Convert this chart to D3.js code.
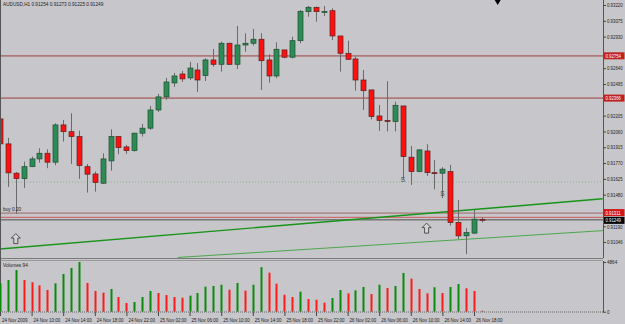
<!DOCTYPE html>
<html><head><meta charset="utf-8">
<script src="https://cdn.jsdelivr.net/npm/d3@7"></script>
<style>html,body{margin:0;padding:0;background:#c7c6ca;} svg{display:block} text{font-family:"Liberation Sans",Arial,sans-serif;}</style>
</head><body><svg id="c" width="625" height="324"></svg>
<script>
// ---------- DATA ----------
const symbolTitle = "AUDUSD,H1";
const open = [0.92175,0.91946,0.91677,0.91627,0.91737,0.91808,0.91860,0.91778,0.92120,0.92058,
0.92013,0.91737,0.91670,0.91585,0.91790,0.92013,0.91918,0.91884,0.92044,0.92090,
0.92257,0.92377,0.92505,0.92587,0.92551,0.92624,0.92572,0.92716,0.92676,0.92869,
0.92676,0.92853,0.92869,0.92906,0.92716,0.92569,0.92808,0.92741,0.92893,0.93159,
0.93199,0.93153,0.93168,0.92936,0.92777,0.92725,0.92532,0.92441,0.92202,0.92161,
0.92150,0.92294,0.91824,0.91692,0.91881,0.91682,0.91677,0.91692,0.91224,0.91102,
0.91127,0.91254];
const high = [0.92211,0.92001,0.91689,0.91783,0.91829,0.91906,0.91897,0.92135,0.92166,0.92227,
0.92068,0.91762,0.91692,0.91860,0.92080,0.92019,0.91936,0.92049,0.92129,0.92294,
0.92404,0.92551,0.92597,0.92615,0.92698,0.92688,0.92731,0.92817,0.92884,0.92874,
0.93028,0.92961,0.93000,0.92961,0.92768,0.92878,0.92808,0.92930,0.93174,0.93211,
0.93205,0.93211,0.93190,0.92936,0.92893,0.92746,0.92624,0.92441,0.92303,0.92521,
0.92333,0.92294,0.91927,0.91897,0.91943,0.91799,0.91732,0.91753,0.91432,0.91173,
0.91340,0.91273];
const low = [0.91918,0.91551,0.91304,0.91542,0.91732,0.91774,0.91723,0.91750,0.91967,0.91762,
0.91625,0.91499,0.91508,0.91579,0.91701,0.91851,0.91854,0.91875,0.92013,0.92074,
0.92239,0.92349,0.92468,0.92514,0.92532,0.92422,0.92523,0.92654,0.92609,0.92670,
0.92633,0.92792,0.92847,0.92441,0.92508,0.92548,0.92731,0.92731,0.92869,0.93113,
0.93067,0.93119,0.92899,0.92609,0.92716,0.92434,0.92257,0.92170,0.92065,0.92060,
0.92060,0.91625,0.91570,0.91686,0.91652,0.91530,0.91448,0.91196,0.91072,0.90934,
0.91120,0.91225];
const close = [0.91946,0.91680,0.91627,0.91737,0.91808,0.91860,0.91778,0.92120,0.92058,0.92013,
0.91747,0.91668,0.91591,0.91808,0.92013,0.91912,0.91884,0.92044,0.92090,0.92257,
0.92377,0.92514,0.92569,0.92542,0.92642,0.92532,0.92716,0.92676,0.92869,0.92676,
0.92853,0.92869,0.92906,0.92709,0.92569,0.92814,0.92741,0.92893,0.93162,0.93199,
0.93159,0.93161,0.92936,0.92777,0.92722,0.92532,0.92434,0.92196,0.92161,0.92154,
0.92300,0.91829,0.91692,0.91891,0.91682,0.91673,0.91714,0.91224,0.91102,0.91132,
0.91255,0.91249];
const volume = [2780,3100,4080,3100,2880,2580,2120,2780,3690,4280,
4864,2810,2030,1860,2220,1440,850,950,1440,2030,
1830,1630,1440,1370,1570,1830,2450,2520,2640,2150,
2810,2060,2640,4350,3820,2740,1660,1440,1960,1240,
1170,880,1340,2120,1800,2090,2420,1730,2640,2320,
2520,3790,3230,2220,1800,2390,1830,2420,2710,2290,
2030,94];
const firstBar = new Date(2009,10,24,6);
const tickLabels = ["24 Nov 2009","24 Nov 10:00","24 Nov 14:00","24 Nov 18:00","24 Nov 22:00",
"25 Nov 02:00","25 Nov 06:00","25 Nov 10:00","25 Nov 14:00","25 Nov 18:00","25 Nov 22:00",
"26 Nov 02:00","26 Nov 06:00","26 Nov 10:00","26 Nov 14:00","26 Nov 18:00"];
const priceTicks = [0.93220,0.93075,0.92930,0.92785,0.92640,0.92495,0.92350,0.92205,0.92060,
0.91915,0.91770,0.91625,0.91480,0.91335,0.91190,0.91046];
const resistanceLevels = [0.92754,0.92366];
const orderPrice = 0.91311, orderLabel = "buy 0.20";
const stopPrice = 0.91272;
const bidPrice = 0.91249;
const dottedLevel = 0.91596;
// trend lines: [barIndexStart, priceStart, barIndexEnd, priceEnd]
const trend1 = [0, 0.90982, 76.3, 0.91442];
const trend2 = [22.5, 0.90904, 76.3, 0.91150];
const signalS = [[51, 0.91599],[56, 0.91471]];
const arrowsUp = [[2, 0.91077],[54, 0.91173]];
const volAxisMax = 4864;

// ---------- SCALES ----------
const W = 625, H = 324, axisX = 603, mainBottom = 258, volTop = 262, volBottom = 311.7;
const times = d3.range(open.length).map(i => d3.timeHour.offset(firstBar, i));
const tAt = k => new Date(+firstBar + k*3600e3);
const x = d3.scaleTime().domain([firstBar, tAt(76.33)]).range([0, axisX]);
const y = d3.scaleLinear().domain([0.90899, 0.93266]).range([mainBottom, 0]);
const yv = d3.scaleLinear().domain([0, volAxisMax]).range([volBottom, volTop]);

const svg = d3.select('#c');
svg.append('rect').attr('width',W).attr('height',H).attr('fill','#c7c6ca');

function squeeze(sel, f){ sel.each(function(){ const L=this.getComputedTextLength(); if(L>0){ this.setAttribute('textLength', (L*f).toFixed(1)); this.setAttribute('lengthAdjust','spacingAndGlyphs'); } }); }

const main = svg.append('g');
main.append('clipPath').attr('id','cp').append('rect').attr('x',0).attr('y',0).attr('width',axisX).attr('height',mainBottom);
const plot = main.append('g').attr('clip-path','url(#cp)');

// horizontal levels
plot.selectAll('.res').data(resistanceLevels).join('line')
  .attr('x1',0).attr('x2',axisX).attr('y1',d=>y(d)).attr('y2',d=>y(d))
  .attr('stroke','#b07878').attr('stroke-width',1.8);
plot.append('line').attr('x1',0).attr('x2',axisX).attr('y1',y(dottedLevel)).attr('y2',y(dottedLevel))
  .attr('stroke','#7fae7f').attr('stroke-width',0.8).attr('stroke-dasharray','1,2');
plot.append('line').attr('x1',0).attr('x2',axisX).attr('y1',y(orderPrice)).attr('y2',y(orderPrice))
  .attr('stroke','#a06868').attr('stroke-width',1);
plot.append('line').attr('x1',0).attr('x2',axisX).attr('y1',y(stopPrice)).attr('y2',y(stopPrice))
  .attr('stroke','#d05a5a').attr('stroke-width',1);
plot.append('line').attr('x1',0).attr('x2',axisX).attr('y1',y(bidPrice)).attr('y2',y(bidPrice))
  .attr('stroke','#505050').attr('stroke-width',1);

// trend lines
plot.append('line').attr('x1',x(tAt(trend1[0]))).attr('y1',y(trend1[1])).attr('x2',x(tAt(trend1[2]))).attr('y2',y(trend1[3]))
  .attr('stroke','#17951a').attr('stroke-width',1.4);
plot.append('line').attr('x1',x(tAt(trend2[0]))).attr('y1',y(trend2[1])).attr('x2',x(tAt(trend2[2]))).attr('y2',y(trend2[3]))
  .attr('stroke','#4aa84a').attr('stroke-width',1);

// candles
const bars = d3.range(open.length).map(i => ({t:times[i], o:open[i], h:high[i], l:low[i], c:close[i], v:volume[i], i}));
const cg = plot.append('g');
cg.selectAll('.wick').data(bars).join('line')
  .attr('x1',d=>Math.round(x(d.t))+0.5).attr('x2',d=>Math.round(x(d.t))+0.5)
  .attr('y1',d=>y(d.h)).attr('y2',d=>y(d.l)).attr('stroke','#6a6a6a').attr('stroke-width',1);
cg.selectAll('.body').data(bars).join('rect')
  .attr('x',d=>Math.round(x(d.t))-2).attr('width',5)
  .attr('y',d=>y(Math.max(d.o,d.c)))
  .attr('height',d=>Math.max(1, Math.abs(y(d.o)-y(d.c))))
  .attr('fill',d=>d.c>=d.o ? '#2e8b57' : '#ff1010')
  .attr('stroke',d=>d.c>=d.o ? '#1e4d2e' : '#5a2020').attr('stroke-width',0.7);

// S signals and arrows
plot.selectAll('.sig').data(signalS).join('text')
  .attr('x',d=>x(tAt(d[0]))).attr('y',d=>y(d[1])).attr('text-anchor','middle')
  .attr('font-size',6.5).attr('fill','#444').text('S');
const arrowPath = 'M0,-5 L4.5,-0.5 L2,-0.5 L2,5 L-2,5 L-2,-0.5 L-4.5,-0.5 Z';
plot.selectAll('.arr').data(arrowsUp).join('path')
  .attr('d',arrowPath).attr('transform',d=>`translate(${x(tAt(d[0]))},${y(d[1])})`)
  .attr('fill','#d4d4d6').attr('stroke','#333').attr('stroke-width',0.8);

// order label
plot.append('text').attr('x',3).attr('y',y(orderPrice)-2).attr('font-size',5.6).attr('fill','#222').text(orderLabel).call(squeeze,0.85);

// panel separators & borders
svg.append('line').attr('x1',0).attr('x2',axisX).attr('y1',258.5).attr('y2',258.5).attr('stroke','#7a7a7a');
svg.append('line').attr('x1',0).attr('x2',axisX).attr('y1',260.5).attr('y2',260.5).attr('stroke','#9a9a9a');
svg.append('line').attr('x1',0.5).attr('x2',0.5).attr('y1',0).attr('y2',312).attr('stroke','#555');

// volumes
const vg = svg.append('g');
vg.selectAll('rect').data(bars).join('rect')
  .attr('x',d=>Math.round(x(d.t))-0.5).attr('width',2)
  .attr('y',d=>yv(d.v)).attr('height',d=>volBottom-yv(d.v))
  .attr('fill',(d,i)=> (i===0 || d.v>volume[i-1]) ? '#0a8a0a' : '#ff1a1a');
svg.append('line').attr('x1',0).attr('x2',axisX).attr('y1',volBottom+0.3).attr('y2',volBottom+0.3)
  .attr('stroke','#666').attr('stroke-dasharray','1,1');
svg.append('text').attr('x',3).attr('y',266.5).attr('font-size',5.6).attr('fill','#222')
  .text('Volumes ' + volume[volume.length-1]).call(squeeze,0.85);

// title
svg.append('text').attr('x',3).attr('y',6).attr('font-size',5.6).attr('fill','#222')
  .text(`${symbolTitle}  ${open[open.length-1].toFixed(5)} ${high[high.length-1].toFixed(5)} ${low[low.length-1].toFixed(5)} ${close[close.length-1].toFixed(5)}`)
  .call(squeeze,0.84);

// price label boxes (drawn over the axis; ticks hidden beneath boxes are skipped)
const boxPrices = resistanceLevels.concat([orderPrice, bidPrice]);
const visibleTicks = priceTicks.filter(p => boxPrices.every(b => Math.abs(y(p)-y(b)) > 6));

// right price axis
const ya = svg.append('g').attr('transform',`translate(${axisX},0)`)
  .call(d3.axisRight(y).tickValues(visibleTicks).tickFormat(d3.format('.5f')).tickSize(3).tickPadding(1));
ya.select('.domain').attr('stroke','#555').attr('d',`M0.5,0V${mainBottom}`);
ya.selectAll('line').attr('stroke','#444');
ya.selectAll('text').attr('font-size',5.4).attr('fill','#222').attr('font-family','"Liberation Sans",Arial,sans-serif').call(squeeze,0.8);

// volume axis
const va = svg.append('g').attr('transform',`translate(${axisX},0)`)
  .call(d3.axisRight(yv).tickValues([volAxisMax,0]).tickFormat(d3.format('d')).tickSize(3).tickPadding(1));
va.select('.domain').attr('stroke','#555').attr('d',`M0.5,${volTop-1}V${volBottom+0.5}`);
va.selectAll('line').attr('stroke','#444');
va.selectAll('text').attr('font-size',5.4).attr('fill','#222').attr('font-family','"Liberation Sans",Arial,sans-serif').call(squeeze,0.85);

function priceBox(p, bg, dy){
  const g = svg.append('g').attr('transform',`translate(${axisX+1},${y(p)+dy})`);
  g.append('rect').attr('x',0).attr('y',-3.5).attr('width',20.5).attr('height',7).attr('fill',bg);
  g.append('text').attr('x',1.5).attr('y',2).attr('font-size',5.2).attr('fill','#fff').text(p.toFixed(5)).call(squeeze,0.82);
}
resistanceLevels.forEach(p=>priceBox(p,'#c02020',0));
priceBox(orderPrice,'#d01818',-0.5);
priceBox(bidPrice,'#000000',0.5);

// time axis
const tickTimes = times.filter((d,i)=>i%4===0);
const xa = svg.append('g').attr('transform',`translate(0,${volBottom+0.3})`)
  .call(d3.axisBottom(x).tickValues(tickTimes).tickFormat((d,i)=>tickLabels[i]).tickSize(4).tickPadding(2));
xa.select('.domain').remove();
xa.selectAll('line').attr('stroke','#444');
xa.selectAll('text').attr('text-anchor','start').attr('dx',1.5).attr('font-size',5.6).attr('fill','#222')
  .attr('font-family','"Liberation Sans",Arial,sans-serif').call(squeeze,0.8);

// chart shift marker
svg.append('path').attr('d',`M${x(tAt(63))-3},0 L${x(tAt(63))+3},0 L${x(tAt(63))},5 Z`).attr('fill','#000');
</script></body></html>
